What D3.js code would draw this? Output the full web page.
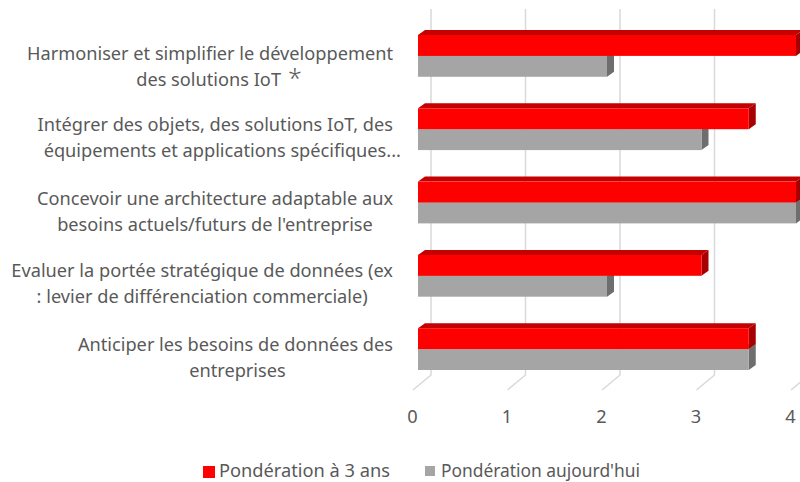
<!DOCTYPE html>
<html>
<head>
<meta charset="utf-8">
<script src="https://cdn.jsdelivr.net/npm/d3@7"></script>
<style>
  html, body { margin: 0; padding: 0; background: #fff; }
  svg { display: block; }
  text { font-family: "Noto Sans", sans-serif; fill: #595959; }
</style>
</head>
<body>
<div id="chart"></div>
<script>
// Data
const categories = ['Harmoniser', 'Intégrer', 'Concevoir', 'Evaluer', 'Anticiper']
const labelLines = [
  ['Harmoniser et simplifier le développement', 'des solutions IoT'],
  ['Intégrer des objets, des solutions IoT, des', 'équipements et applications spécifiques...'],
  ['Concevoir une architecture adaptable aux', "besoins actuels/futurs de l'entreprise"],
  ['Evaluer la portée stratégique de données (ex', ': levier de différenciation commerciale)'],
  ['Anticiper les besoins de données des', 'entreprises']
]
const labelMarks = ['*', '', '', '', '']
const seriesNames = ['Pondération à 3 ans', "Pondération aujourd'hui"]
const in3Years = [4, 3.5, 4, 3, 3.5]
const today = [2, 3, 4, 2, 3.5]
const tickValues = [0, 1, 2, 3, 4]

// Layout
const width = 800
const height = 482
const depthX = 7
const depthY = 5
const wallX = 13
const labelRight = 393
const fontSize = 18.2

const colors = [
  { front: '#ff0000', top: '#c40000', side: '#a80000' },
  { front: '#a5a5a5', top: '#8a8a8a', side: '#6e6e6e' }
]

const svg = d3.select('#chart')
  .append('svg')
  .attr('width', width)
  .attr('height', height)

// Scales
const xScale = d3.scaleLinear()
  .domain([0, 4])
  .range([418, 796])

const yScale = d3.scaleBand()
  .domain(categories)
  .range([35, 370])
  .paddingInner(0.43)
  .paddingOuter(0)

const seriesScale = d3.scaleBand()
  .domain(seriesNames)
  .range([0, yScale.bandwidth()])

// Back wall gridlines and their floor ticks
svg.append('g')
  .selectAll('path')
  .data(tickValues)
  .enter()
  .append('path')
  .attr('d', d => {
    const gx = xScale(d) + wallX
    return `M${gx},9V375L${gx - 18},390`
  })
  .attr('fill', 'none')
  .attr('stroke', '#d9d9d9')
  .attr('stroke-width', 1.5)

// Value axis, labels only
const xAxis = d3.axisBottom(xScale)
  .tickValues(tickValues)
  .tickSize(0)
  .tickFormat(d3.format('d'))

const axisGroup = svg.append('g')
  .attr('transform', 'translate(-6, 407)')
  .call(xAxis)
axisGroup.select('.domain').remove()
axisGroup.selectAll('text')
  .style('font-size', `${fontSize}px`)
  .style('font-family', '"Noto Sans", sans-serif')
  .attr('fill', '#595959')

// 3D bars, grey first so the red bar sits over it
const series = [today, in3Years]
const seriesColors = [colors[1], colors[0]]
const seriesKeys = [seriesNames[1], seriesNames[0]]

series.forEach((values, s) => {
  const c = seriesColors[s]
  const h = seriesScale.bandwidth()
  const bars = svg.append('g')
    .selectAll('g')
    .data(values.map((v, i) => ({ v: v, cat: categories[i] })))
    .enter()
    .append('g')
    .attr('transform', d => `translate(0, ${yScale(d.cat) + seriesScale(seriesKeys[s])})`)

  bars.append('path')
    .attr('d', d => `M${xScale(0)},0l${depthX},${-depthY}H${xScale(d.v) + depthX}l${-depthX},${depthY}Z`)
    .attr('fill', c.top)

  bars.append('path')
    .attr('d', d => `M${xScale(d.v)},0l${depthX},${-depthY}v${h}l${-depthX},${depthY}Z`)
    .attr('fill', c.side)

  bars.append('rect')
    .attr('x', xScale(0))
    .attr('y', 0)
    .attr('width', d => xScale(d.v) - xScale(0))
    .attr('height', h)
    .attr('fill', c.front)
})

// Category labels: first line ends at labelRight, second is centred under it
const lineNudge = [9, 7, 0, 0, 2]
const rowNudge = [4, 2, 2, 1, 2]
categories.forEach((cat, i) => {
  const cy = yScale(cat) + yScale.bandwidth() / 2 + rowNudge[i]
  const first = svg.append('text')
    .attr('x', labelRight)
    .attr('y', cy)
    .attr('text-anchor', 'end')
    .style('font-size', `${fontSize}px`)
    .text(labelLines[i][0])
  const w = first.node().getComputedTextLength()
  const second = svg.append('text')
    .attr('x', labelRight - w / 2 + lineNudge[i])
    .attr('y', cy + 26)
    .attr('text-anchor', 'middle')
    .style('font-size', `${fontSize}px`)
    .text(labelLines[i][1])
  // The footnote mark is drawn bigger and thinner than the label
  if (labelMarks[i]) {
    second.append('tspan')
      .attr('dx', 7)
      .attr('dy', 1)
      .style('font-size', '25px')
      .style('font-weight', 300)
      .text(labelMarks[i])
  }
})

// Legend
const legendX = d3.scaleOrdinal()
  .domain(seriesNames)
  .range([203, 425])
const legendSwatch = [12, 10]
const legendTextWidth = [171, 199]

const legend = svg.append('g')
  .selectAll('g')
  .data(seriesNames)
  .enter()
  .append('g')
  .attr('transform', d => `translate(${legendX(d)}, 466)`)

legend.append('rect')
  .attr('width', (d, i) => legendSwatch[i])
  .attr('height', (d, i) => legendSwatch[i])
  .attr('fill', (d, i) => colors[i].front)

legend.append('text')
  .attr('x', 16)
  .attr('y', 11)
  .attr('textLength', (d, i) => legendTextWidth[i])
  .attr('lengthAdjust', 'spacingAndGlyphs')
  .style('font-size', `${fontSize}px`)
  .text(d => d)
</script>
</body>
</html>
